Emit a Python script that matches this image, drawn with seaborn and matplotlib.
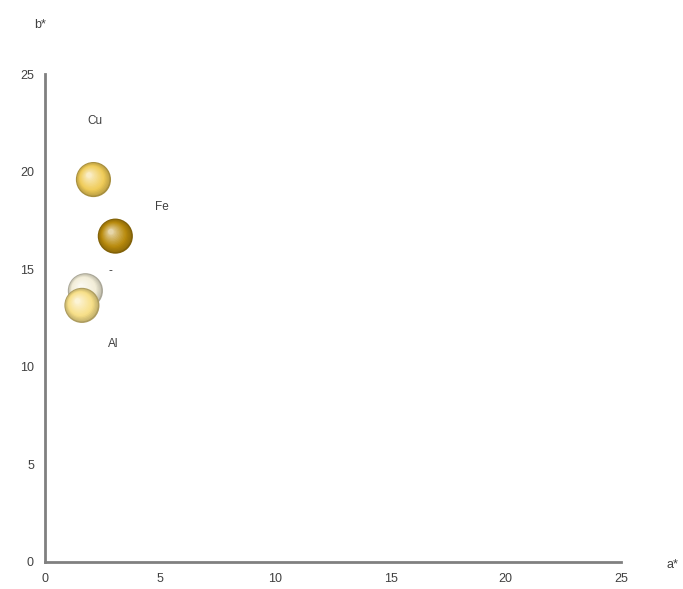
import numpy as np
import pandas as pd
import matplotlib
matplotlib.use("Agg")
import matplotlib.pyplot as plt
import matplotlib.transforms as mtrans
from matplotlib.colors import to_rgb
import seaborn as sns

# data
labels = ["Cu", "Fe", "-", "Al"]
a_star = [2.1, 3.05, 1.75, 1.6]
b_star = [19.6, 16.7, 13.9, 13.15]
colors = ["#f0cc58", "#b88a0c", "#f3eed8", "#f7df88"]
label_dx = [0.07, 2.0, 1.07, 1.35]
label_dy = [3.0, 1.5, 1.0, -2.0]

df = pd.DataFrame({"a": a_star, "b": b_star, "label": labels})

sns.set_theme(style="white")
plt.rcParams["font.family"] = ["Liberation Sans", "DejaVu Sans"]

fig = plt.figure(figsize=(6.83, 5.89), dpi=100)
ax = fig.add_axes([0.066, 0.046, 0.843, 0.828])

def shade(c, f):
    r = np.array(to_rgb(c))
    return tuple(r + (1 - r) * f) if f > 0 else tuple(r * (1 + f))

# draw spheres one by one (back to front) with a soft highlight
for i, row in df.iterrows():
    sub = df.iloc[[i]]
    c = colors[i]
    sns.scatterplot(data=sub, x="a", y="b", s=640, color=shade(c, -0.3),
                    edgecolor="none", ax=ax, legend=False, zorder=3 + i)
    n = 14
    for k in range(n):
        t = (k + 1) / n
        s = 600 * (1 - t) ** 1.6 + 15
        f = -0.2 + 0.85 * t ** 1.3
        off = 3.2 * t
        tr = mtrans.offset_copy(ax.transData, fig=fig, x=-off, y=off, units="points")
        ax.scatter(sub["a"], sub["b"], s=s, color=shade(c, f), edgecolor="none",
                   transform=tr, zorder=3 + i)

for i in range(len(labels)):
    ax.text(a_star[i] + label_dx[i], b_star[i] + label_dy[i], labels[i],
            fontsize=8.5, color="#404040", ha="center", va="center")

ax.set_xlim(0, 25)
ax.set_ylim(0, 25)
ax.set_xticks([0, 5, 10, 15, 20, 25])
ax.set_yticks([0, 5, 10, 15, 20, 25])
ax.tick_params(axis="both", labelsize=9, colors="#404040", length=0, pad=8)
ax.set_xlabel("")
ax.set_ylabel("")
sns.despine(ax=ax)
for sp in ["left", "bottom"]:
    ax.spines[sp].set_color("#808080")
    ax.spines[sp].set_linewidth(2)

fig.text(40 / 683, 1 - 25 / 589, "b*", fontsize=9, color="#404040", ha="center", va="center")
fig.text(672 / 683, 1 - 565 / 589, "a*", fontsize=9, color="#404040", ha="center", va="center")

fig.savefig("out.png", dpi=100)
